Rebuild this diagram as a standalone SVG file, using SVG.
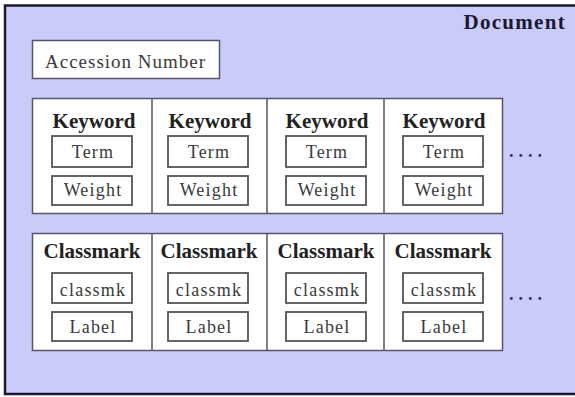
<svg xmlns="http://www.w3.org/2000/svg" width="575" height="397" viewBox="0 0 575 397">
<style>
.frame{fill:#cbcbfa;stroke:#1a1a2e;stroke-width:2.5}
.cell{fill:#fff;stroke:#55556a;stroke-width:1.5}
.box{fill:#fff;stroke:#555;stroke-width:1.8}
.serif{font-family:"Liberation Serif","Times New Roman","DejaVu Serif",serif}
.h{font-weight:bold;font-size:21px;fill:#222;text-anchor:middle}
.t{font-size:18px;letter-spacing:1.2px;fill:#3a3a3a;text-anchor:middle}
.dots{font-weight:bold;font-size:18px;letter-spacing:5px;fill:#333366}
</style>
<rect class="frame" x="5" y="5.5" width="575" height="388.5"/>
<text class="serif" x="566" y="29" font-weight="bold" font-size="21" letter-spacing="1.3" fill="#1a1a33" text-anchor="end">Document</text>
<g id="accession">
<rect class="cell" x="32.5" y="40.5" width="187" height="38"/>
<text class="serif" x="45" y="68" font-size="19" letter-spacing="1" fill="#3a3a3a">Accession Number</text>
</g>
<g id="keywords">
<rect class="cell" x="32.5" y="98.5" width="470" height="115"/>
<line class="cell" x1="152" y1="98.5" x2="152" y2="213.5"/>
<line class="cell" x1="267" y1="98.5" x2="267" y2="213.5"/>
<line class="cell" x1="384" y1="98.5" x2="384" y2="213.5"/>
<g id="kw1"><text class="serif h" x="94" y="128">Keyword</text><rect class="box" x="52" y="136" width="80" height="31"/><text class="serif t" x="93" y="158">Term</text><rect class="box" x="52" y="176" width="80" height="29"/><text class="serif t" x="93" y="196">Weight</text></g>
<g id="kw2"><text class="serif h" x="210" y="128">Keyword</text><rect class="box" x="168" y="136" width="80" height="31"/><text class="serif t" x="209" y="158">Term</text><rect class="box" x="168" y="176" width="80" height="29"/><text class="serif t" x="209" y="196">Weight</text></g>
<g id="kw3"><text class="serif h" x="327" y="128">Keyword</text><rect class="box" x="286" y="136" width="80" height="31"/><text class="serif t" x="327" y="158">Term</text><rect class="box" x="286" y="176" width="80" height="29"/><text class="serif t" x="327" y="196">Weight</text></g>
<g id="kw4"><text class="serif h" x="444" y="128">Keyword</text><rect class="box" x="403" y="136" width="80" height="31"/><text class="serif t" x="444" y="158">Term</text><rect class="box" x="403" y="176" width="80" height="29"/><text class="serif t" x="444" y="196">Weight</text></g>
<text class="serif dots" x="509" y="157">....</text>
</g>
<g id="classmarks">
<rect class="cell" x="32.5" y="233.5" width="470" height="117"/>
<line class="cell" x1="152" y1="233.5" x2="152" y2="350.5"/>
<line class="cell" x1="267" y1="233.5" x2="267" y2="350.5"/>
<line class="cell" x1="384" y1="233.5" x2="384" y2="350.5"/>
<g id="cm1"><text class="serif h" x="92" y="258">Classmark</text><rect class="box" x="52" y="273" width="80" height="30"/><text class="serif t" x="93" y="296">classmk</text><rect class="box" x="52" y="312" width="80" height="29"/><text class="serif t" x="93" y="333">Label</text></g>
<g id="cm2"><text class="serif h" x="209" y="258">Classmark</text><rect class="box" x="168" y="273" width="80" height="30"/><text class="serif t" x="209" y="296">classmk</text><rect class="box" x="168" y="312" width="80" height="29"/><text class="serif t" x="209" y="333">Label</text></g>
<g id="cm3"><text class="serif h" x="326" y="258">Classmark</text><rect class="box" x="286" y="273" width="80" height="30"/><text class="serif t" x="327" y="296">classmk</text><rect class="box" x="286" y="312" width="80" height="29"/><text class="serif t" x="327" y="333">Label</text></g>
<g id="cm4"><text class="serif h" x="443" y="258">Classmark</text><rect class="box" x="403" y="273" width="80" height="30"/><text class="serif t" x="444" y="296">classmk</text><rect class="box" x="403" y="312" width="80" height="29"/><text class="serif t" x="444" y="333">Label</text></g>
<text class="serif dots" x="509" y="300">....</text>
</g>
</svg>
